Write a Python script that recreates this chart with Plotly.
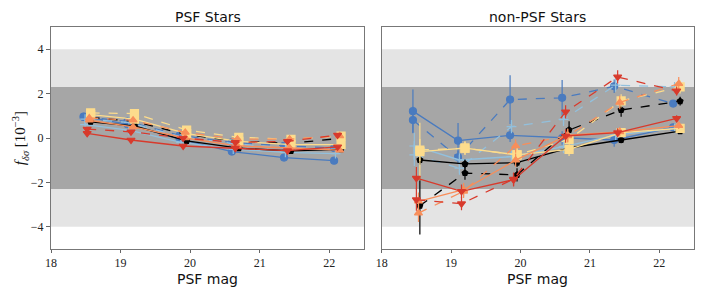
import plotly.graph_objects as go

# ---------------- data ----------------
mag_psf = [18.52, 19.15, 19.9, 20.65, 21.4, 22.12]
mag_non = [18.5, 19.15, 19.9, 20.65, 21.4, 22.25]

series_names = ["blue", "lightblue", "black", "yellow", "orange", "red"]

psf_solid = {
    "blue":      [0.96, 0.62, -0.05, -0.61, -0.88, -1.02],
    "lightblue": [0.60, 0.35, -0.20, -0.50, -0.65, -0.70],
    "black":     [0.73, 0.54, -0.13, -0.46, -0.58, -0.51],
    "yellow":    [1.05, 0.85, 0.20, -0.15, -0.30, -0.30],
    "orange":    [0.80, 0.50, 0.00, -0.35, -0.45, -0.55],
    "red":       [0.21, -0.09, -0.36, -0.46, -0.57, -0.40],
}
psf_dashed = {
    "blue":      [0.95, 0.75, 0.12, -0.20, -0.35, -0.45],
    "lightblue": [0.85, 0.70, 0.05, -0.25, -0.45, -0.50],
    "black":     [0.93, 0.75, 0.15, -0.15, -0.24, -0.01],
    "yellow":    [1.13, 1.10, 0.36, 0.03, -0.06, 0.09],
    "orange":    [0.90, 0.80, 0.25, -0.05, -0.05, 0.10],
    "red":       [0.40, 0.28, 0.00, -0.20, -0.15, 0.13],
}

non_solid = {
    "blue":      [1.21, -0.12, 0.12, 0.00, -0.09, 0.48],
    "lightblue": [-0.36, -0.99, -0.84, -0.39, 0.13, 0.43],
    "black":     [-0.99, -1.17, -1.11, -0.45, -0.09, 0.31],
    "yellow":    [-0.61, -0.46, -0.76, -0.51, 0.24, 0.43],
    "orange":    [-2.85, -2.33, -1.00, 0.13, 0.28, 0.56],
    "red":       [-1.81, -2.40, -1.88, 0.09, 0.24, 0.88],
}
non_solid_err = {
    "blue":      [0.97, 0.80, 0.30, 0.30, 0.30, 0.15],
    "lightblue": [0.60, 0.30, 0.30, 0.30, 0.20, 0.10],
    "black":     [0.20, 0.20, 0.20, 0.20, 0.15, 0.10],
    "yellow":    [1.30, 0.30, 0.30, 0.30, 0.20, 0.10],
    "orange":    [0.40, 0.30, 0.30, 0.30, 0.20, 0.15],
    "red":       [0.50, 0.30, 0.30, 0.30, 0.20, 0.15],
}
non_dashed = {
    "blue":      [0.81, -0.87, 1.73, 1.81, 2.33, 1.55],
    "lightblue": [-0.76, -1.36, 0.51, 0.84, 2.38, 2.30],
    "black":     [-3.05, -1.58, -1.66, 0.36, 1.26, 1.66],
    "yellow":    [-0.54, -0.46, -0.76, -0.06, 1.67, 2.30],
    "orange":    [-3.38, -2.40, -0.36, 0.10, 1.60, 2.45],
    "red":       [-2.78, -2.96, -1.85, 1.18, 2.75, 2.12],
}
non_dashed_err = {
    "blue":      [0.60, 0.30, 1.10, 0.80, 0.30, 0.10],
    "lightblue": [0.50, 0.30, 0.30, 0.30, 0.30, 0.15],
    "black":     [1.30, 0.30, 0.30, 0.40, 0.30, 0.20],
    "yellow":    [0.50, 0.30, 0.30, 0.30, 0.30, 0.30],
    "orange":    [0.40, 0.30, 0.30, 0.30, 0.30, 0.30],
    "red":       [0.50, 0.30, 0.30, 0.30, 0.30, 0.20],
}

x_ticks = [18, 19, 20, 21, 22]
y_ticks = [-4, -2, 0, 2, 4]

# ---------------- styles ----------------
style = {
    "blue":      dict(color="#4a7bbf", symbol="circle", size=7, dx=-0.05),
    "lightblue": dict(color="#92c0dd", symbol="cross-thin", size=7, dx=-0.03),
    "black":     dict(color="#000000", symbol="pentagon", size=6, dx=0.05),
    "yellow":    dict(color="#fddc8c", symbol="square", size=8, dx=0.05),
    "orange":    dict(color="#f88e5a", symbol="triangle-up", size=7, dx=0.03),
    "red":       dict(color="#d83a2c", symbol="triangle-down", size=7, dx=0.0),
}

fig = go.Figure()

def add(xs, ys, name, dash, axis, err=None):
    s = style[name]
    tr = dict(
        x=[v + s["dx"] for v in xs], y=ys, mode="lines+markers",
        line=dict(color=s["color"], width=1.3, dash=dash),
        marker=dict(color=s["color"], symbol=s["symbol"], size=s["size"],
                    line=dict(color=s["color"], width=1.2)),
        showlegend=False, xaxis="x" if axis == 1 else "x2", yaxis="y" if axis == 1 else "y2",
    )
    if err is not None:
        tr["error_y"] = dict(type="data", array=err, color=s["color"], thickness=1.2, width=0)
    fig.add_trace(go.Scatter(**tr))

for n in series_names:
    add(mag_psf, psf_solid[n], n, "solid", 1)
    add(mag_psf, psf_dashed[n], n, "dash", 1)
    add(mag_non, non_solid[n], n, "solid", 2, non_solid_err[n])
    add(mag_non, non_dashed[n], n, "dash", 2, non_dashed_err[n])

# background bands
for xr, yr in [("x domain", "y"), ("x2 domain", "y2")]:
    fig.add_shape(type="rect", xref=xr, yref=yr, x0=0, x1=1, y0=-4, y1=4,
                  fillcolor="#e4e4e4", line_width=0, layer="below")
    fig.add_shape(type="rect", xref=xr, yref=yr, x0=0, x1=1, y0=-2.3, y1=2.3,
                  fillcolor="#a6a6a6", line_width=0, layer="below")

tickfont = dict(family="Liberation Serif", size=12, color="#222")
titlefont = dict(family="DejaVu Sans", size=14, color="#111")
ax_common = dict(range=[18, 22.5], tickvals=x_ticks, ticks="outside", ticklen=3,
                 tickcolor="#666", showline=True, linecolor="#777", linewidth=1,
                 mirror=True, showgrid=False, zeroline=False, tickfont=tickfont,
                 automargin=False)
ay_common = dict(range=[-5, 5], tickvals=y_ticks, ticklen=4,
                 tickcolor="#666", showline=True, linecolor="#777", linewidth=1,
                 mirror=True, showgrid=False, zeroline=False, tickfont=tickfont,
                 automargin=False, tickformat="d")

# the page body has an 8px default margin, so the figure is offset by 8px
fig.update_layout(
    width=698, height=286,
    margin=dict(l=43, r=12, t=19, b=45, autoexpand=False),
    paper_bgcolor="white", plot_bgcolor="white",
    xaxis=dict(domain=[0, 0.4868], **ax_common),
    xaxis2=dict(domain=[0.5143, 1], **ax_common),
    yaxis=dict(anchor="x", ticks="outside", **ay_common),
    yaxis2=dict(anchor="x2", ticks="", showticklabels=False, **ay_common),
    annotations=[
        dict(text="PSF Stars", x=0.2434, y=1.0, xref="paper", yref="paper",
             xanchor="center", yanchor="bottom",
             yshift=0, showarrow=False, font=titlefont),
        dict(text="non-PSF Stars", x=0.757, y=1.0, xref="paper", yref="paper",
             xanchor="center", yanchor="bottom",
             yshift=0, showarrow=False, font=titlefont),
        dict(text="PSF mag", x=0.2434, y=0.0, xref="paper", yref="paper",
             xanchor="center", yanchor="middle",
             yshift=-30, showarrow=False, font=dict(family="DejaVu Sans", size=14, color="#111")),
        dict(text="PSF mag", x=0.757, y=0.0, xref="paper", yref="paper",
             xanchor="center", yanchor="middle",
             yshift=-30, showarrow=False, font=dict(family="DejaVu Sans", size=14, color="#111")),
        dict(text="<i>f</i><sub><i>δσ</i></sub> [10<sup>−3</sup>]", x=-0.048, y=0.5,
             xref="paper", yref="paper",
             textangle=-90, showarrow=False, xanchor="center", yanchor="middle",
             font=dict(family="Liberation Serif", size=15, color="#111")),
    ],
)
fig.write_html("out.html")
